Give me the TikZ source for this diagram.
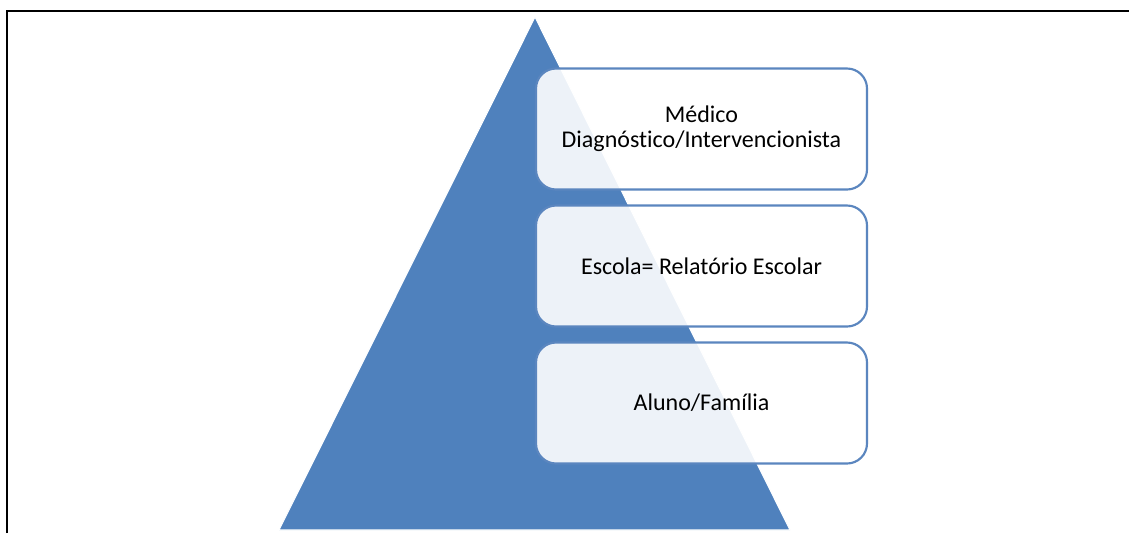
\documentclass[tikz,border=0pt]{standalone}
\usepackage{fontspec}
\setmainfont[Ligatures={NoCommon,NoRequired,NoContextual}]{Carlito}
\definecolor{tri}{HTML}{4F81BD}
\definecolor{boxline}{HTML}{5B86BF}
\begin{document}
\begin{tikzpicture}[x=0.75pt,y=-0.75pt,
  level/.style={draw=boxline, line width=1.6pt, fill=white, fill opacity=0.9, text opacity=1,
    rounded corners=15pt, minimum width=331*0.75pt, minimum height=121*0.75pt,
    inner sep=0pt, align=center, font=\fontsize{18}{19}\selectfont, text=black}]
\useasboundingbox (0,0) rectangle (1129,533);
\fill[white] (0,0) rectangle (1129,533);
% frame (top and left edges)
\draw[line width=1.8pt] (7,533) -- (7,11) -- (1129,11);
% pyramid
\coordinate (apex) at (535,17);
\coordinate (bl) at (279,530);
\coordinate (br) at (790,530);
\fill[tri, draw=white, line width=0.8pt] (apex) -- (br) -- (bl) -- cycle;
% levels
\node[level] (top) at (701.5,129) {Médico\\Diagnóstico/Intervencionista};
\node[level] (mid) at (701.5,266) {Escola= Relatório Escolar};
\node[level] (low) at (701.5,403) {Aluno/Família};
\end{tikzpicture}
\end{document}
